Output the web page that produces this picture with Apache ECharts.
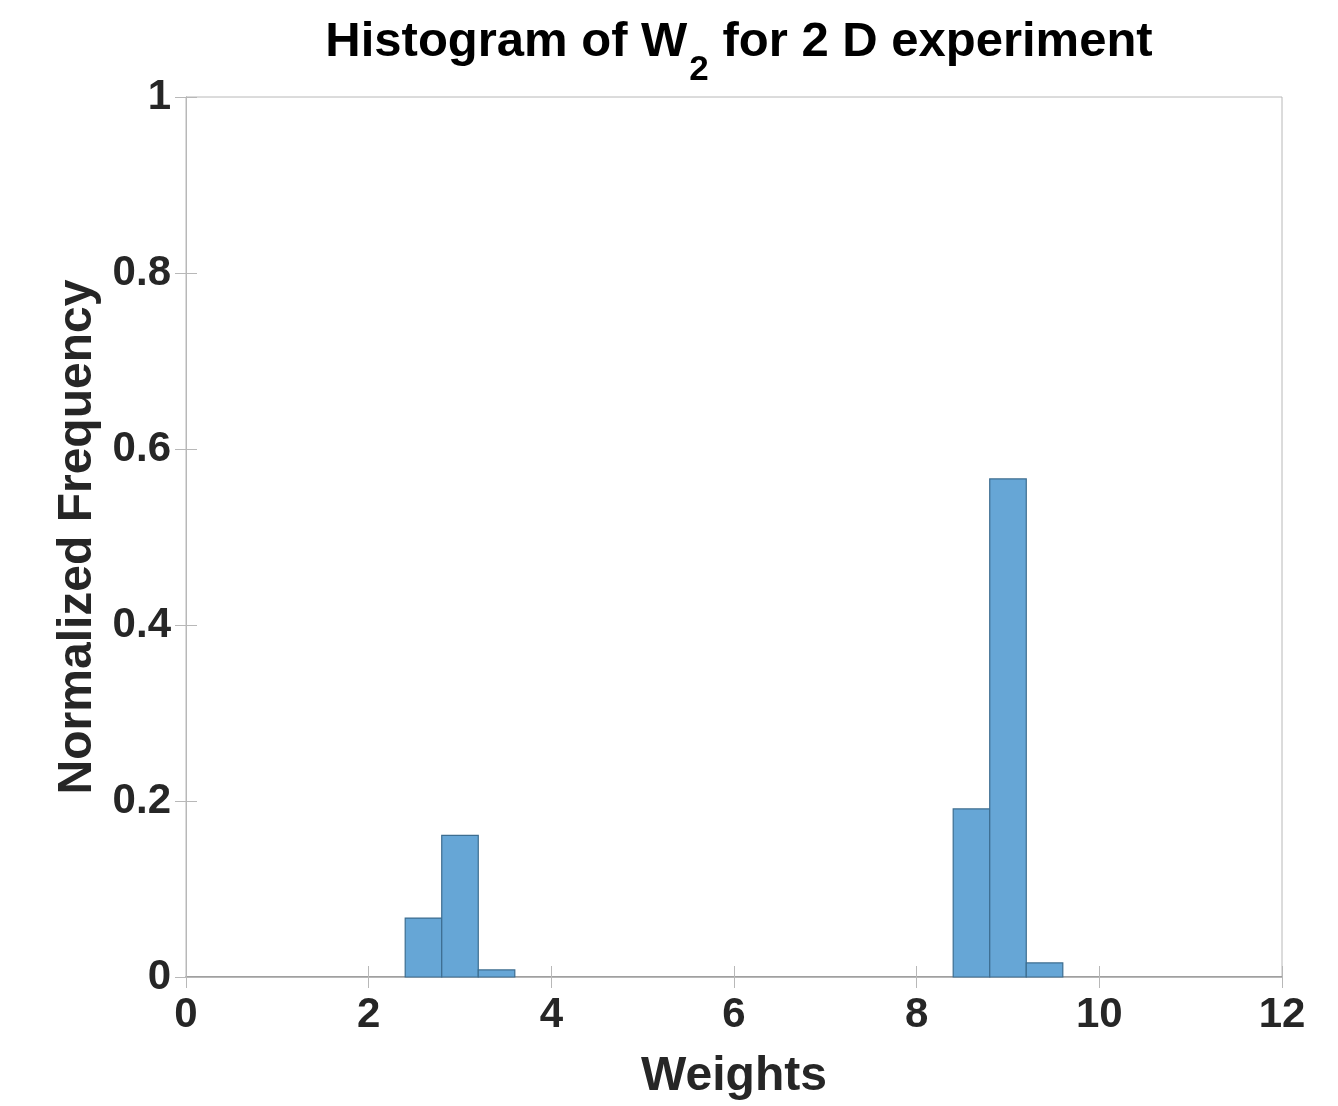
<!DOCTYPE html>
<html>
<head>
<meta charset="utf-8">
<script src="https://cdn.jsdelivr.net/npm/echarts@6/dist/echarts.min.js"></script>
<style>
html,body{margin:0;padding:0;background:#fff;}
#chart{width:1338px;height:1106px;}
</style>
</head>
<body>
<div id="chart"></div>
<script>
// Histogram bins (Weights) and normalized frequencies
const binStart = [2.4, 2.8, 3.2, 8.4, 8.8, 9.2];
const binEnd   = [2.8, 3.2, 3.6, 8.8, 9.2, 9.6];
const freq     = [0.067, 0.161, 0.008, 0.191, 0.566, 0.016];
const xTicks = [0, 2, 4, 6, 8, 10, 12];
const yTicks = [0, 0.2, 0.4, 0.6, 0.8, 1];

const data = binStart.map((s, i) => [s, binEnd[i], freq[i]]);
const FONT = '"Liberation Sans", Arial, Helvetica, sans-serif';
const axisGray = '#b8b8b8';
const textCol = '#262626';

const chart = echarts.init(document.getElementById('chart'));
chart.setOption({
  backgroundColor: '#ffffff',
  animation: false,
  title: {
    text: '{a|Histogram of W}{s|2}{a| for 2 D experiment}',
    left: 734,
    textAlign: 'center',
    top: -8,
    textStyle: {
      rich: {
        a: {fontFamily: FONT, fontWeight: 'bold', fontSize: 49, color: '#000'},
        s: {fontFamily: FONT, fontWeight: 'bold', fontSize: 35, color: '#000', padding: [56, 0, 0, 2]}
      }
    }
  },
  grid: {left: 186, right: 56, top: 97, bottom: 125, show: true, borderColor: axisGray, borderWidth: 1, containLabel: false},
  xAxis: [{
    type: 'value', min: 0, max: 12, interval: 2,
    name: 'Weights', nameLocation: 'middle', nameGap: 76,
    nameTextStyle: {fontFamily: FONT, fontWeight: 'bold', fontSize: 48, color: textCol},
    axisLine: {show: true, lineStyle: {color: '#8c8c8c', width: 1.5}},
    axisTick: {show: true, inside: true, length: 11, lineStyle: {color: axisGray}},
    axisLabel: {fontFamily: FONT, fontWeight: 'bold', fontSize: 42, color: textCol, margin: 17,
      formatter: v => xTicks.includes(v) ? String(v) : ''},
    splitLine: {show: false}
  }, {
    type: 'value', min: 0, max: 12, interval: 2, position: 'top',
    axisLine: {show: true, lineStyle: {color: axisGray}},
    axisTick: {show: true, inside: true, length: 11, lineStyle: {color: axisGray}},
    axisLabel: {show: false}, splitLine: {show: false}
  }],
  yAxis: [{
    type: 'value', min: 0, max: 1, interval: 0.2,
    name: 'Normalized Frequency', nameLocation: 'middle', nameGap: 78,
    nameTextStyle: {fontFamily: FONT, fontWeight: 'bold', fontSize: 48, color: textCol},
    axisLine: {show: true, lineStyle: {color: axisGray}},
    axisTick: {show: true, inside: true, length: 11, lineStyle: {color: axisGray}},
    axisLabel: {fontFamily: FONT, fontWeight: 'bold', fontSize: 42, color: textCol, margin: 15,
      formatter: v => {
        const t = yTicks.find(k => Math.abs(k - v) < 1e-9);
        if (t === undefined) return '';
        return t === 0 ? '0' : (t === 1 ? '1' : t.toFixed(1));
      }},
    splitLine: {show: false}
  }, {
    type: 'value', min: 0, max: 1, interval: 0.2, position: 'right',
    axisLine: {show: true, lineStyle: {color: axisGray}},
    axisTick: {show: true, inside: true, length: 11, lineStyle: {color: axisGray}},
    axisLabel: {show: false}, splitLine: {show: false}
  }],
  series: [{
    type: 'custom',
    xAxisIndex: 0, yAxisIndex: 0,
    data: data,
    encode: {x: [0, 1], y: 2},
    renderItem: function (params, api) {
      const p0 = api.coord([api.value(0), api.value(2)]);
      const p1 = api.coord([api.value(1), 0]);
      return {
        type: 'rect',
        shape: {x: p0[0], y: p0[1], width: p1[0] - p0[0], height: p1[1] - p0[1]},
        style: {fill: '#66a6d6', stroke: '#3c6d90', lineWidth: 1.2}
      };
    }
  }]
});
</script>
</body>
</html>
